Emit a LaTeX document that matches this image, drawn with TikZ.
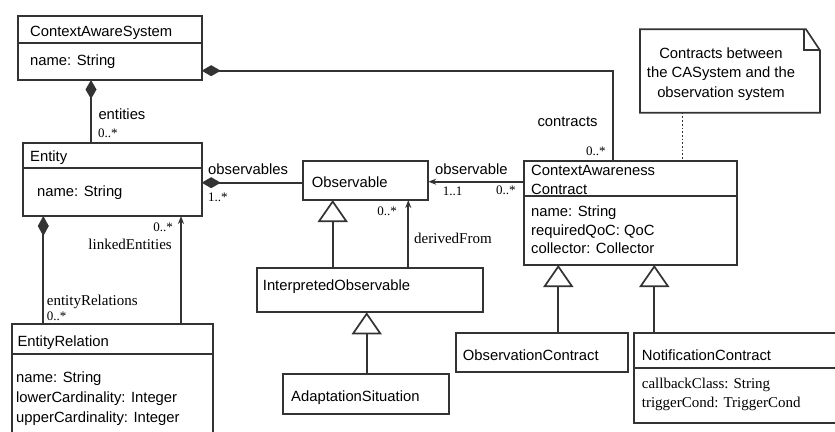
\documentclass[tikz,border=0pt]{standalone}
\usepackage{fontspec}
\setmainfont{Liberation Sans}
\newfontfamily\serifl{Liberation Serif}
\usetikzlibrary{arrows.meta}
\definecolor{lc}{HTML}{333333}
\begin{document}
\begin{tikzpicture}[x=1pt,y=-1pt,
 box/.style={draw=lc, line width=1.7pt, inner sep=0pt, outer sep=0pt, anchor=north west},
 conn/.style={draw=lc, line width=1.7pt},
 lbl/.style={anchor=base west, inner sep=0pt, font=\fontsize{14.8}{17}\selectfont},
 slbl/.style={anchor=base west, inner sep=0pt, font=\serifl\fontsize{15}{17}\selectfont},
 mult/.style={anchor=base west, inner sep=0pt, font=\serifl\fontsize{13}{15}\selectfont},
 comp/.style={{Diamond[length=19pt,width=11pt]}-},
 nav/.style={-{Stealth[length=8pt,width=6pt]}},
 inh/.style={-{Triangle[open,length=22pt,width=30pt]}},
]
\useasboundingbox (0,0) rectangle (835,431);
\clip (0,0) rectangle (835,431);
\fill[white] (0,0) rectangle (835,431);

% ---- class boxes
\node[box, minimum width=183.4pt, minimum height=64.3pt] (cas) at (18.3,15.7) {};
\draw[conn] (cas.west |- 0,43.3) -- (cas.east |- 0,43.3);
\node[lbl] (casT) at (30,36.7) {ContextAwareSystem};
\node[lbl] (casA) at (30,65) {name: String};

\node[box, minimum width=179pt, minimum height=73.3pt] (ent) at (22.7,142.7) {};
\draw[conn] (ent.west |- 0,168.3) -- (ent.east |- 0,168.3);
\node[lbl] (entT) at (30,161.7) {Entity};
\node[lbl] (entA) at (37,196.7) {name: String};

\node[box, minimum width=200.7pt, minimum height=130pt] (er) at (12.3,324) {};
\draw[conn] (er.west |- 0,354) -- (er.east |- 0,354);
\node[lbl] (erT) at (17.3,346.7) {EntityRelation};
\node[lbl] (erA1) at (16,382.7) {name: String};
\node[lbl] (erA2) at (16,402.3) {lowerCardinality: Integer};
\node[lbl] (erA3) at (16,422.3) {upperCardinality: Integer};

\node[box, minimum width=125pt, minimum height=39.3pt] (obs) at (303.3,160.7) {};
\node[lbl] (obsT) at (311.7,187.7) {Observable};

\node[box, minimum width=226.6pt, minimum height=44pt] (io) at (256.7,268.3) {};
\node[lbl] (ioT) at (262.7,290) {InterpretedObservable};

\node[box, minimum width=166pt, minimum height=40pt] (as) at (283.3,374.3) {};
\node[lbl] (asT) at (291,401.7) {AdaptationSituation};

\node[box, minimum width=213pt, minimum height=104.3pt] (cac) at (524.3,160.7) {};
\draw[conn] (cac.west |- 0,195.7) -- (cac.east |- 0,195.7);
\node[lbl] (cacT1) at (531,175) {ContextAwareness};
\node[lbl] (cacT2) at (531,194.5) {Contract};
\node[lbl] (cacA1) at (531,216) {name: String};
\node[lbl] (cacA2) at (531,235.7) {requiredQoC: QoC};
\node[lbl] (cacA3) at (531,253.3) {collector: Collector};

\node[box, minimum width=172pt, minimum height=38.4pt] (oc) at (455.7,333.3) {};
\node[lbl] (ocT) at (462.7,360) {ObservationContract};

\node[box, minimum width=210pt, minimum height=90pt] (nc) at (634.3,333.3) {};
\draw[conn] (nc.west |- 0,368.3) -- (nc.east |- 0,368.3);
\node[lbl] (ncT) at (641.7,360) {NotificationContract};
\node[slbl] (ncA1) at (641.7,388.3) {callbackClass: String};
\node[slbl] (ncA2) at (641.7,407.7) {triggerCond: TriggerCond};

% ---- note
\node[inner sep=0pt, outer sep=0pt, anchor=north west, minimum width=180pt, minimum height=83.4pt] (note) at (640,29.3) {};
\draw[conn, line join=miter] (note.south west) -- (note.north west) -- ([xshift=-14pt]note.north east)
  -- ([yshift=-21pt]note.north east) -- (note.south east) -- cycle;
\draw[conn, line join=miter] ([xshift=-16pt]note.north east) -- ([xshift=-16pt,yshift=-21pt]note.north east) -- ([yshift=-21pt]note.north east);
\node[inner sep=0pt, align=center, font=\fontsize{14.8}{19.5}\selectfont] (noteT) at (721,74)
  {Contracts between\\the CASystem and the\\observation system};

% ---- connectors
\draw[conn, comp] (cas.south -| 91,0) -- (ent.north -| 91,0);
\node[lbl] (lEntities) at (98.3,119) {entities};
\node[mult] (mEntities) at (98,137) {0..*};

\draw[conn, comp] (cas.east |- 0,70.7) -| (cac.north -| 613.3,0);
\node[lbl] (lContracts) at (537.3,126.7) {contracts};
\node[mult] (mContracts) at (586,155) {0..*};

\draw[conn, comp] (ent.east |- 0,182.7) -- (obs.west |- 0,182.7);
\node[lbl] (lObservables) at (208,174) {observables};
\node[mult] (mObservables) at (208,201.7) {1..*};

\draw[conn, {Diamond[length=20pt,width=11pt]}-] (ent.south -| 43.3,0) -- (er.north -| 43.3,0);
\node[slbl] (lEntRel) at (46.7,305.7) {entityRelations};
\node[mult] (mEntRel) at (46.7,320) {0..*};

\draw[conn, nav] (er.north -| 181,0) -- (ent.south -| 181,0);
\node[mult, anchor=base east] (mLinked) at (173,231.7) {0..*};
\node[slbl, anchor=base east] (lLinked) at (172,249) {linkedEntities};

\draw[conn, inh] (io.north -| 332.7,0) -- (obs.south -| 332.7,0);
\draw[conn, nav] (io.north -| 408.3,0) -- (obs.south -| 408.3,0);
\node[mult, anchor=base east] (mDerived) at (397,215) {0..*};
\node[slbl] (lDerived) at (414,243.3) {derivedFrom};

\draw[conn, inh] (as.north -| 366.7,0) -- (io.south -| 366.7,0);

\draw[conn, nav] (cac.west |- 0,181.7) -- (obs.east |- 0,181.7);
\node[lbl] (lObservable) at (435,174.3) {observable};
\node[mult] (mObs11) at (442.7,195) {1..1};
\node[mult] (mObs0) at (496,194.5) {0..*};

\draw[conn, dotted, line width=1.2pt] (note.south -| 682.3,0) -- (cac.north -| 682.3,0);

\draw[conn, inh] (oc.north -| 558.3,0) -- (cac.south -| 558.3,0);
\draw[conn, inh] (nc.north -| 654.3,0) -- (cac.south -| 654.3,0);
\end{tikzpicture}
\end{document}
